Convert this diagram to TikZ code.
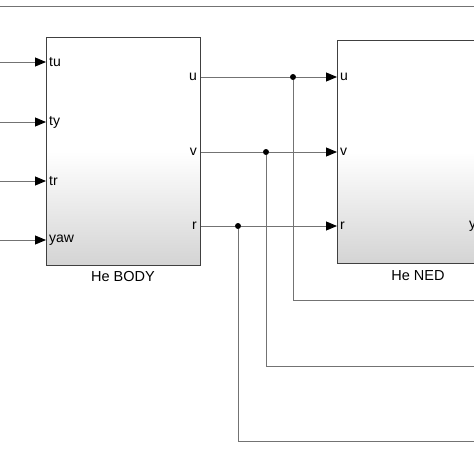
\documentclass[tikz,border=0pt]{standalone}
\usepackage{fontspec}
\setmainfont{Liberation Sans}
\usetikzlibrary{arrows.meta}

\begin{document}
\begin{tikzpicture}[x=1pt,y=-1pt,
  sig/.style={draw=black!55, line width=0.9pt},
  arr/.style={sig, -{Triangle[length=11pt,width=9pt,color=black]}},
  blk/.style={draw=black!75, line width=1pt, top color=white, bottom color=black!17,
    middle color=white, inner sep=0pt, anchor=north west},
  jdot/.style={circle, fill=black, inner sep=0pt, minimum size=6pt},
  lbl/.style={font=\fontsize{14}{16}\selectfont, inner sep=2pt}]
  \useasboundingbox (0,0) rectangle (474,474);
  \clip (0,0) rectangle (474,474);
  \fill[white] (0,0) rectangle (474,474);
  % frame line at the top
  \draw[sig] (0,6) -- (474,6);
  % blocks
  \node[blk, minimum width=154pt, minimum height=228pt] (body) at (46,37) {};
  \node[blk, minimum width=200pt, minimum height=223pt] (ned) at (337,40) {};
  \node[lbl, font=\fontsize{14.5}{16}\selectfont] (bodyname) at (123,277) {He BODY};
  \node[lbl, font=\fontsize{14.5}{16}\selectfont] (nedname) at (418,276) {He NED};
  % input ports of He BODY
  \foreach \name/\y in {tu/62, ty/122, tr/181, yaw/240} {
    \coordinate (src\name) at (0,\y);
    \node[lbl, anchor=west] (p\name) at (47,\y) {\name};
    \draw[arr] (src\name) -- (body.west |- src\name);
  }
  % outputs and junctions
  \foreach \name/\y/\x/\yb in {u/77/293/300, v/152/266/366, r/226/238/441} {
    \node[lbl, anchor=east] (o\name) at (199,\y) {\name};
    \node[lbl, anchor=west] (i\name) at (338,\y) {\name};
    \node[jdot] (j\name) at (\x,\y) {};
    \coordinate (c\name) at (\x,\yb);
    \coordinate (e\name) at (474,\yb);
    \draw[sig] (body.east |- j\name) -- (j\name);
    \draw[arr] (j\name) -- (ned.west |- j\name);
    \draw[sig] (j\name) -- (c\name) -- (e\name);
  }
  % output port of He NED, cut at the edge as in the source
  \node[lbl, anchor=west] (oy) at (467,226) {y};
\end{tikzpicture}
\end{document}
